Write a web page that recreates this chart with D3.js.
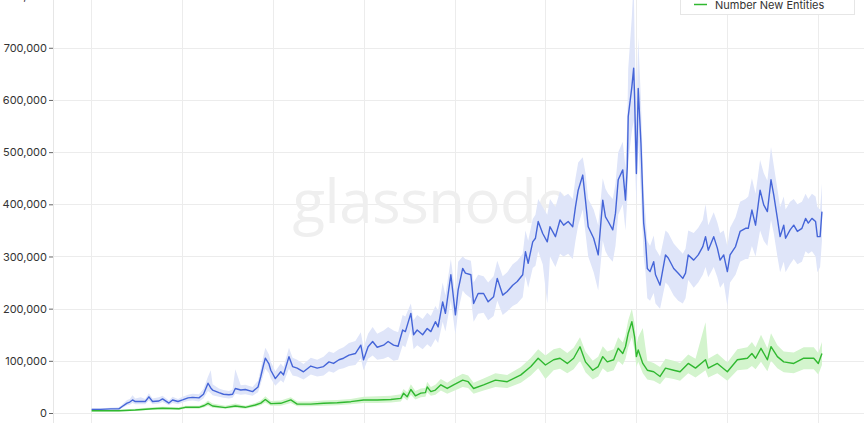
<!DOCTYPE html>
<html>
<head>
<meta charset="utf-8">
<script src="https://cdn.jsdelivr.net/npm/d3@7"></script>
<style>
  html, body { margin: 0; padding: 0; background: #fff; }
  svg { display: block; }
  text { font-family: Inter, "Noto Sans", sans-serif; }
</style>
</head>
<body>
<svg id="chart" width="864" height="423"></svg>
<script>
// ---- Data (time as decimal years) ----
const yearTicks = [2012, 2013, 2014, 2015, 2016, 2017, 2018, 2019, 2020];
const yTicks = [0, 100000, 200000, 300000, 400000, 500000, 600000, 700000, 800000];
const seriesNames = ["Number Active Entities", "Number New Entities"];

// Blue: active entities (smoothed line) - values in thousands
const blueT = [2012.01,2012.11,2012.22,2012.31,2012.35,2012.40,2012.43,2012.46,2012.49,2012.55,2012.60,2012.64,2012.68,2012.75,2012.79,2012.86,2012.90,2012.96,
2013.01,2013.07,2013.12,2013.19,2013.24,2013.29,2013.32,2013.34,2013.41,2013.46,2013.52,2013.56,2013.59,2013.65,2013.70,2013.78,2013.84,2013.87,2013.90,2013.92,2013.96,2013.98,
2014.03,2014.09,2014.12,2014.18,2014.22,2014.27,2014.34,2014.42,2014.49,2014.56,2014.62,2014.67,2014.73,2014.78,2014.84,2014.91,2014.97,
2015.00,2015.05,2015.10,2015.15,2015.22,2015.27,2015.33,2015.38,2015.43,2015.46,2015.52,2015.55,2015.59,2015.65,2015.70,2015.74,2015.79,2015.82,2015.87,2015.90,2015.96,
2016.01,2016.04,2016.09,2016.12,2016.18,2016.21,2016.26,2016.32,2016.37,2016.43,2016.47,2016.53,2016.58,2016.64,2016.69,2016.75,2016.78,2016.81,2016.86,2016.89,2016.92,2016.97,
2017.02,2017.05,2017.11,2017.16,2017.20,2017.25,2017.30,2017.33,2017.36,2017.41,2017.44,2017.47,2017.53,2017.58,2017.63,2017.66,2017.69,2017.74,2017.77,2017.80,2017.85,2017.88,2017.90,2017.91,2017.95,2017.97,2017.98,
2018.00,2018.02,2018.05,2018.08,2018.10,2018.12,2018.15,2018.19,2018.21,2018.26,2018.32,2018.35,2018.41,2018.46,2018.51,2018.54,2018.57,2018.63,2018.68,2018.73,2018.76,2018.79,2018.85,2018.89,2018.92,2018.96,
2019.00,2019.03,2019.09,2019.14,2019.20,2019.23,2019.27,2019.31,2019.36,2019.40,2019.44,2019.48,2019.51,2019.55,2019.58,2019.62,2019.64,2019.69,2019.73,2019.77,2019.82,2019.86,2019.89,2019.93,2019.97,2019.99,
2020.02,2020.04];
const blueV = [7,7,8,8,13,19,21,25,22,22,22,31,22,23,27,19,25,22,
25,29,30,29,36,57,48,44,39,36,35,36,47,44,45,41,50,70,92,105,94,82,
66,79,73,108,89,86,79,90,86,89,98,95,102,105,111,114,130,
102,127,137,126,130,137,130,128,159,156,191,150,159,150,162,156,175,165,213,191,265,
188,236,277,268,265,210,229,229,213,223,258,226,233,245,252,265,309,287,328,335,367,344,
328,357,338,370,360,367,357,395,427,456,408,357,335,303,408,376,367,351,383,447,466,408,472,568,625,661,606,
459,622,517,364,332,277,271,290,265,245,303,297,277,268,258,268,303,293,303,319,338,312,338,316,293,303,
271,303,319,348,354,354,389,360,427,399,386,447,418,373,338,360,335,351,360,348,354,373,364,373,367,338,
338,386];
const blueHi = [9,9,10,11,17,25,27,34,28,30,27,38,28,30,33,24,31,27,
31,35,37,36,46,70,82,55,47,44,42,45,84,53,54,50,62,85,110,125,112,98,
80,95,88,125,106,102,94,106,102,108,118,115,122,126,134,138,155,
125,152,165,152,158,165,158,155,188,185,210,178,188,180,192,186,205,196,250,225,295,
225,290,300,295,292,250,265,262,250,262,292,262,270,285,292,305,350,330,372,380,410,395,
380,410,395,425,415,420,410,450,480,490,460,410,390,360,450,430,420,410,440,500,520,470,560,660,760,830,720,
560,720,600,420,380,330,320,340,315,300,350,345,325,315,305,315,350,345,355,370,400,360,385,365,345,350,
320,355,375,405,410,415,450,420,485,460,445,510,475,430,395,415,390,405,410,400,405,420,410,420,415,395,
390,440];
const blueLo = [5,5,6,6,10,15,16,19,17,17,17,24,17,18,21,15,19,17,
20,23,24,22,28,42,38,34,31,29,28,29,37,35,36,33,40,56,74,85,76,66,
52,63,58,85,72,70,64,74,70,72,80,77,84,86,90,92,105,
82,104,110,102,104,108,100,102,130,126,160,122,130,122,132,126,142,134,175,156,215,
150,195,235,228,220,175,190,192,178,186,215,188,195,205,210,222,262,240,278,282,310,285,
210,300,280,305,300,305,295,330,360,390,345,300,270,235,330,310,300,290,320,380,400,350,410,480,540,560,500,
400,520,420,300,270,220,215,230,210,200,250,245,225,215,210,220,255,240,250,265,280,260,280,260,240,250,
205,250,265,290,295,295,320,300,350,330,320,370,345,300,270,290,270,285,295,285,290,310,305,310,300,270,
280,330];

// Green: new entities (smoothed line) - values in thousands
const greenT = [2012.01,2012.31,2012.49,2012.68,2012.79,2012.97,2013.04,2013.19,2013.25,2013.29,2013.34,2013.48,2013.59,2013.70,2013.81,2013.87,2013.92,2013.98,
2014.09,2014.20,2014.27,2014.42,2014.56,2014.71,2014.86,2015.00,2015.15,2015.30,2015.41,2015.44,2015.48,2015.52,2015.57,2015.63,2015.68,2015.70,2015.74,2015.79,2015.85,2015.92,2015.99,
2016.09,2016.15,2016.21,2016.32,2016.45,2016.58,2016.73,2016.84,2016.92,2017.00,2017.09,2017.16,2017.24,2017.31,2017.38,2017.44,2017.52,2017.58,2017.63,2017.68,2017.75,2017.80,2017.85,2017.88,2017.91,2017.95,2017.98,
2018.00,2018.02,2018.07,2018.12,2018.19,2018.26,2018.32,2018.41,2018.48,2018.57,2018.65,2018.76,2018.79,2018.89,2019.00,2019.11,2019.22,2019.27,2019.31,2019.37,2019.44,2019.48,2019.55,2019.62,2019.73,2019.84,2019.95,2020.00,2020.04];
const greenV = [4.4,4.4,5.8,8.2,9,8.2,10.9,10.9,14.4,18.6,13.4,10.2,13.4,10.9,15.3,19,26,18,
18.6,25,17,17,18.6,19.7,21.7,25,25,26,28,38,31,45,33,38,39,50,41,44,54,47,54,
63,60,47,54,63,60,73,89,105,92,102,105,95,105,127,98,82,89,108,98,102,124,114,127,153,175,146,
108,121,95,82,79,70,86,82,79,95,86,102,86,95,79,102,105,114,105,124,102,127,108,98,95,105,105,95,114];
const greenHi = [6,6,8,11,12,11,14,14,18,24,18,14,18,14,19,24,32,23,
24,30,22,22,24,25,27,31,32,33,36,46,40,55,42,47,48,60,50,54,65,58,66,
75,72,58,66,76,73,88,106,122,110,122,125,115,125,145,118,100,108,128,118,122,145,135,150,178,200,172,
130,145,163,100,96,88,104,100,96,112,104,174,104,114,97,122,126,136,126,150,124,153,130,118,116,126,126,115,136];
const greenLo = [3,3,4,6,7,6,8,8,11,14,10,8,10,8,12,15,20,14,
14,19,13,13,14,15,17,19,19,20,22,30,24,35,26,30,31,40,33,35,43,37,42,
50,48,37,43,50,48,58,72,86,65,82,85,76,84,100,78,64,70,86,78,82,100,92,104,126,145,120,
88,98,76,64,62,55,68,65,62,76,68,82,68,76,62,82,84,90,84,98,80,100,86,78,76,84,84,74,92];

// ---- Chart ----
const svg = d3.select("#chart");
const W = 864, H = 423;
const left = 53;

const x = d3.scaleLinear().domain([2012, 2020]).range([90.7, 818.3]);
const y = d3.scaleLinear().domain([0, 800000]).range([413, -4.4]);

// gridlines
const grid = svg.append("g");
grid.selectAll("line.h").data(yTicks).join("line")
  .attr("x1", left).attr("x2", W)
  .attr("y1", d => Math.round(y(d)) + 0.5).attr("y2", d => Math.round(y(d)) + 0.5)
  .attr("stroke", "#ececec").attr("stroke-width", 1);
grid.selectAll("line.v").data(yearTicks).join("line")
  .attr("x1", d => Math.round(x(d)) + 0.5).attr("x2", d => Math.round(x(d)) + 0.5)
  .attr("y1", 0).attr("y2", H)
  .attr("stroke", "#ececec").attr("stroke-width", 1);
grid.append("line").attr("x1", left + 0.5).attr("x2", left + 0.5).attr("y1", 0).attr("y2", H)
  .attr("stroke", "#e6e6e6");

// watermark
svg.append("text")
  .attr("x", 431).attr("y", 223)
  .attr("text-anchor", "middle")
  .attr("font-size", 60)
  .attr("font-weight", 400)
  .attr("letter-spacing", -0.5)
  .attr("fill", "#efefef")
  .style("font-family", "'Open Sans', Lato, sans-serif")
  .text("glassnode");

// y axis
const yAxis = d3.axisLeft(y).tickValues(yTicks).tickFormat(d3.format(",")).tickSize(4).tickPadding(2);
const ya = svg.append("g").attr("transform", `translate(${left},0)`).call(yAxis);
ya.select(".domain").remove();
ya.selectAll(".tick line").attr("stroke", "#666");
ya.selectAll(".tick text").attr("fill", "#333").style("font-size", "11px").style("font-family", "Inter, sans-serif");

// series helpers
function band(T, hi, lo) {
  return d3.area()
    .x((d, i) => x(T[i]))
    .y0((d, i) => y(lo[i] * 1000))
    .y1((d, i) => y(hi[i] * 1000))(T);
}
function line(T, V) {
  return d3.line()
    .x((d, i) => x(T[i]))
    .y((d, i) => y(V[i] * 1000))(T);
}

svg.append("path").attr("d", band(blueT, blueHi, blueLo))
  .attr("fill", "#dfe5f9");
svg.append("path").attr("d", band(greenT, greenHi, greenLo))
  .attr("fill", "#d3f4cd");

svg.append("path").attr("d", line(blueT, blueV))
  .attr("fill", "none").attr("stroke", "#4565d8").attr("stroke-width", 1.4).attr("stroke-linejoin", "round");
svg.append("path").attr("d", line(greenT, greenV))
  .attr("fill", "none").attr("stroke", "#30b830").attr("stroke-width", 1.4).attr("stroke-linejoin", "round");

// legend (partially cut off at top, as in the reference)
const lg = svg.append("g");
lg.append("rect").attr("x", 680.5).attr("y", -28.5).attr("width", 174).attr("height", 43)
  .attr("fill", "#fff").attr("stroke", "#e6e6e6");
const legendColors = ["#4565d8", "#30b830"];
seriesNames.forEach((name, i) => {
  const yy = -13 + i * 17.5;
  lg.append("line").attr("x1", 694).attr("x2", 707).attr("y1", yy).attr("y2", yy)
    .attr("stroke", legendColors[i]).attr("stroke-width", 1.5);
  lg.append("text").attr("x", 715).attr("y", yy + 4)
    .attr("fill", "#333").style("font-size", "11px").text(name);
});
</script>
</body>
</html>
